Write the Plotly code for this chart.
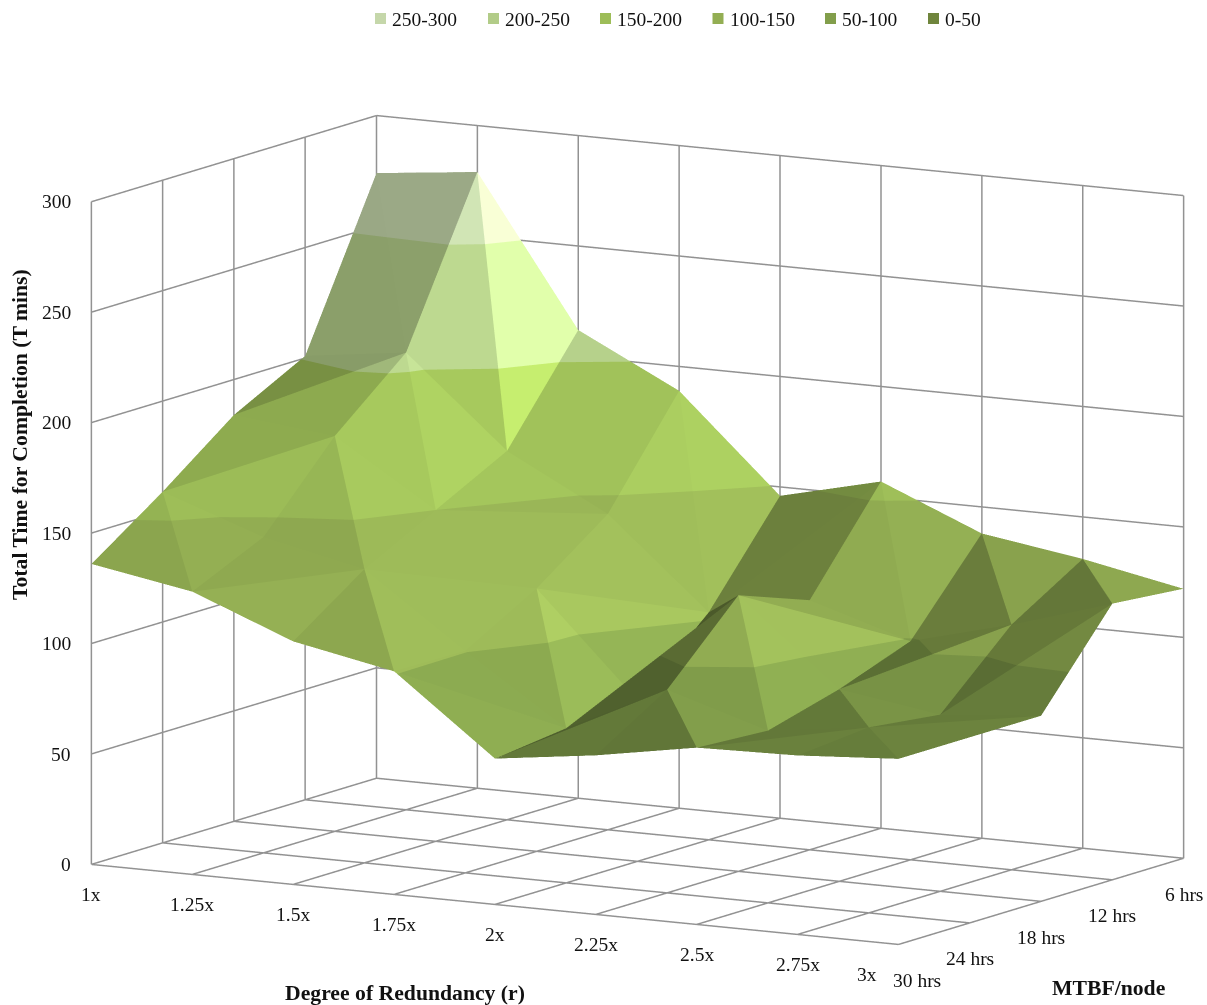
import math
import numpy as np
import plotly.graph_objects as go

# Axis categories
redundancy = ["1x", "1.25x", "1.5x", "1.75x", "2x", "2.25x", "2.5x", "2.75x", "3x"]
mtbf = ["30 hrs", "24 hrs", "18 hrs", "12 hrs", "6 hrs"]
time_ticks = [0, 50, 100, 150, 200, 250, 300]

# Total time for completion per MTBF row
t_30h = [136, 128, 110, 101, 66, 72, 80, 81, 84]
t_24h = [159, 143, 133, 100.5, 70, 92, 78, 84, 84]
t_18h = [184, 179, 150, 119, 73, 125, 87, 80, 84]
t_12h = [201, 207, 167, 143, 103, 113, 99, 111, 125]
t_6h = [274, 279, 212, 189, 146, 157, 138, 131, 122]

# Value bands, highest first, as listed in the key
band_names = ["250-300", "200-250", "150-200", "100-150", "50-100", "0-50"]
band_low = [250, 200, 150, 100, 50, 0]
band_rgb = [(197, 215, 170), (178, 204, 136), (157, 189, 88),
            (147, 174, 83), (130, 158, 75), (111, 133, 60)]

Z = np.array([t_30h, t_24h, t_18h, t_12h, t_6h], dtype=float)
nj, ni = Z.shape

# Box proportions and view direction of the oblique projection
BOX_SCALE = 1.4165
ASPECT = dict(x=BOX_SCALE * 929 / 672, y=BOX_SCALE * 573 / 672, z=BOX_SCALE)
THETA, PHI = math.radians(29.8), math.radians(9.97)
GRID = "#929292"
FONT = "Liberation Serif"
TEXT = "#111111"

# Facet brightness against the x component of its normal
SHADE_NX = [-0.8, -0.35, -0.17, -0.04, 0.17, 0.5, 0.6, 0.72, 1.0]
SHADE_F = [0.47, 0.62, 0.74, 0.80, 0.97, 1.08, 1.12, 1.26, 1.45]


def clip_band(tri, lo, hi):
    """Clip a triangle to lo <= z <= hi and return the polygon's vertices."""
    def clip(poly, level, keep_above):
        out = []
        for a, b in zip(poly, poly[1:] + poly[:1]):
            ina = a[2] >= level if keep_above else a[2] <= level
            inb = b[2] >= level if keep_above else b[2] <= level
            if ina:
                out.append(a)
            if ina != inb:
                t = (level - a[2]) / (b[2] - a[2])
                out.append(tuple(a[n] + t * (b[n] - a[n]) for n in range(3)))
        return out
    poly = clip(list(tri), lo, True)
    return clip(poly, hi, False) if poly else []


def shade(tri):
    """Brightness of a facet from its normal in box space."""
    sx = 2 * ASPECT["x"] / (ni - 1)
    sy = 2 * ASPECT["y"] / (nj - 1)
    sz = 2 * ASPECT["z"] / 300
    p = [np.array([v[0] * sx, v[1] * sy, v[2] * sz]) for v in tri]
    n = np.cross(p[1] - p[0], p[2] - p[0])
    n = n / np.linalg.norm(n)
    if n[2] < 0:
        n = -n
    return float(np.interp(n[0], SHADE_NX, SHADE_F))


# The surface is split along the higher diagonal of each grid cell
triangles = []
for j in range(nj - 1):
    for i in range(ni - 1):
        a = (i, j, Z[j, i])
        b = (i + 1, j, Z[j, i + 1])
        c = (i + 1, j + 1, Z[j + 1, i + 1])
        d = (i, j + 1, Z[j + 1, i])
        if a[2] + c[2] >= b[2] + d[2]:
            triangles += [(a, b, c), (a, c, d)]
        else:
            triangles += [(a, b, d), (b, c, d)]

fig = go.Figure()

# Gridlines on the two back walls and the floor
gx, gy, gz = [], [], []


def wall_line(p, q):
    gx.extend([p[0], q[0], None])
    gy.extend([p[1], q[1], None])
    gz.extend([p[2], q[2], None])


top = time_ticks[-1]
for v in time_ticks:
    wall_line((0, 0, v), (0, nj - 1, v))
    wall_line((0, nj - 1, v), (ni - 1, nj - 1, v))
for n in range(ni):
    wall_line((n, nj - 1, 0), (n, nj - 1, top))
    wall_line((n, 0, 0), (n, nj - 1, 0))
for n in range(nj):
    wall_line((0, n, 0), (0, n, top))
    wall_line((0, n, 0), (ni - 1, n, 0))
fig.add_trace(go.Scatter3d(x=gx, y=gy, z=gz, mode="lines", hoverinfo="skip",
                           line=dict(color=GRID, width=3), showlegend=False))

for name, lo, rgb in zip(band_names, band_low, band_rgb):
    xs, ys, zs, ti, tj, tk, colors = [], [], [], [], [], [], []
    for tri in triangles:
        f = shade(tri)
        col = "rgb(%d,%d,%d)" % tuple(min(255, int(c * f)) for c in rgb)
        poly = clip_band(tri, lo, lo + 50)
        if len(poly) < 3:
            continue
        base = len(xs)
        for v in poly:
            xs.append(v[0]); ys.append(v[1]); zs.append(v[2])
        for m in range(1, len(poly) - 1):
            ti.append(base); tj.append(base + m); tk.append(base + m + 1)
            colors.append(col)
    if ti:
        fig.add_trace(go.Mesh3d(
            x=xs, y=ys, z=zs, i=ti, j=tj, k=tk, facecolor=colors, name=name,
            flatshading=True, hoverinfo="skip", showscale=False,
            lighting=dict(ambient=1, diffuse=0, specular=0, fresnel=0, roughness=1),
        ))

axis_style = dict(
    showbackground=False, showgrid=False, showline=False, zeroline=False,
    showspikes=False, showticklabels=False, ticks="", title=dict(text=""),
)

tick_font = dict(family=FONT, size=19.5, color=TEXT)
scene_notes = []
for v in time_ticks:
    scene_notes.append(dict(x=0, y=0, z=v, text=str(v), showarrow=False,
                            xanchor="right", xshift=-18, font=tick_font))
for n, label in enumerate(redundancy):
    scene_notes.append(dict(x=n, y=0, z=0, text=label, showarrow=False,
                            xshift=-32 if n == ni - 1 else 0, yshift=-30, font=tick_font))
for n, label in enumerate(mtbf):
    scene_notes.append(dict(x=ni - 1, y=n, z=0, text=label, showarrow=False,
                            xshift=18 if n == 0 else 0, yshift=-36, font=tick_font))

# Key along the top of the page
key_x = [375, 488, 600, 712.5, 825, 928]
shapes, notes = [], []
for x0, name, rgb in zip(key_x, band_names, band_rgb):
    shapes.append(dict(type="rect", xref="paper", yref="paper", line_width=0,
                       x0=x0 / 1207, x1=(x0 + 11) / 1207,
                       y0=1 - 24 / 1005, y1=1 - 13 / 1005,
                       fillcolor="rgb(%d,%d,%d)" % rgb))
    notes.append(dict(xref="paper", yref="paper", x=(x0 + 15) / 1207, y=1 - 19 / 1005,
                      text=name, showarrow=False, xanchor="left", yanchor="middle",
                      font=tick_font))

title_font = dict(family=FONT, size=21.7, color=TEXT)
notes.append(dict(xref="paper", yref="paper", x=20 / 1207, y=1 - 435 / 1005, textangle=-90,
                  xanchor="center", yanchor="middle",
                  text="<b>Total Time for Completion (T mins)</b>", showarrow=False, font=title_font))
notes.append(dict(xref="paper", yref="paper", x=405 / 1207, y=1 - 993 / 1005,
                  xanchor="center", yanchor="middle",
                  text="<b>Degree of Redundancy (r)</b>", showarrow=False, font=title_font))
notes.append(dict(xref="paper", yref="paper", x=1109 / 1207, y=1 - 988 / 1005,
                  xanchor="center", yanchor="middle",
                  text="<b>MTBF/node</b>", showarrow=False, font=title_font))

fig.update_layout(
    width=1207, height=1005, margin=dict(l=0, r=0, t=0, b=0),
    paper_bgcolor="white", showlegend=False, hovermode=False,
    shapes=shapes, annotations=notes,
    scene=dict(
        domain=dict(x=[0.0563, 1], y=[0, 0.945]),
        aspectmode="manual", aspectratio=ASPECT,
        xaxis=dict(range=[0, ni - 1], tickvals=list(range(ni)), **axis_style),
        yaxis=dict(range=[0, nj - 1], tickvals=list(range(nj)), **axis_style),
        zaxis=dict(range=[0, 300], tickvals=time_ticks, **axis_style),
        camera=dict(
            projection=dict(type="orthographic"),
            up=dict(x=0, y=0, z=1),
            center=dict(x=0, y=0, z=0),
            eye=dict(x=math.sin(THETA) * math.cos(PHI) * 2,
                     y=-math.cos(THETA) * math.cos(PHI) * 2,
                     z=math.sin(PHI) * 2),
        ),
        annotations=scene_notes,
    ),
)

fig.write_html("out.html")
